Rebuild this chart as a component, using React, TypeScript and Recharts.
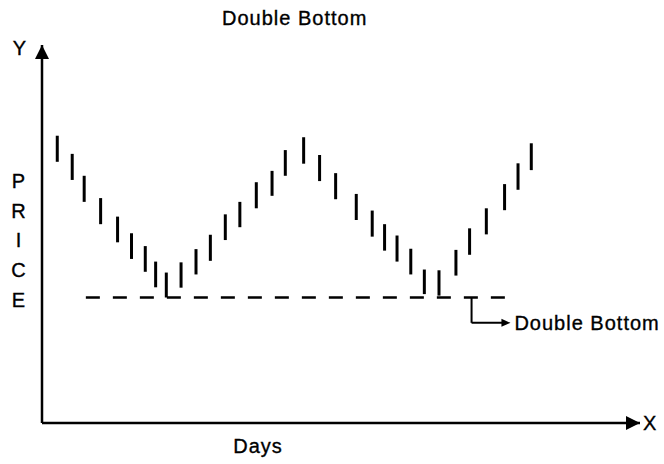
import React from "react";
import {
  Bar,
  ComposedChart,
  Label,
  ReferenceDot,
  ReferenceLine,
  XAxis,
  YAxis
} from "recharts";

// day position of each price bar (hand-drawn, so not evenly spaced)
const DAYS = [
  1.5, 3.0, 4.2, 5.85, 7.55, 8.95, 10.33, 11.37, 12.44, 13.92, 15.42, 16.86,
  18.36, 19.82, 21.47, 23.05, 24.38, 26.22, 27.82, 29.43, 31.5, 33.1, 34.34,
  35.59, 36.97, 38.33, 39.8, 41.5, 42.87, 44.55, 46.38, 47.73, 49.06
];
const HIGHS = [
  76.0, 71.2, 65.4, 59.5, 54.6, 50.2, 46.8, 42.7, 39.8, 42.5, 46.0, 49.8,
  55.2, 58.5, 63.7, 66.7, 72.2, 75.6, 70.9, 66.1, 60.6, 56.2, 52.6, 49.6,
  46.1, 40.6, 40.4, 45.8, 51.5, 56.8, 63.2, 68.7, 74.0
];
const LOWS = [
  69.1, 64.3, 58.5, 52.6, 47.8, 43.4, 40.0, 35.9, 33.2, 35.8, 39.3, 42.9,
  48.4, 51.8, 56.8, 60.1, 65.4, 68.6, 64.0, 59.2, 53.7, 49.3, 45.6, 42.7,
  39.3, 34.1, 33.7, 39.0, 44.5, 49.9, 56.3, 61.7, 66.9
];

const SUPPORT_PRICE = 33.2;
const SUPPORT_FROM = 4.4;
const SUPPORT_TO = 46.6;

const CALLOUT_DAY = 43.1;
const CALLOUT_PRICE = 26.5;
const CALLOUT_TIP = 47.0;

const X_MAX = 60;
const Y_MAX = 100;

const FONT = "'Liberation Sans', Arial, sans-serif";
const TEXT_STYLE = {
  fontFamily: FONT,
  fontSize: 20,
  letterSpacing: 1,
  fill: "#000",
  stroke: "#000",
  strokeWidth: 0.35
};

const chartData = DAYS.map((day, i) => ({ day, range: [LOWS[i], HIGHS[i]] }));

function UpArrow(props: any): React.JSX.Element {
  const { cx, cy } = props;
  return (
    <g>
      <polygon points={`${cx},${cy} ${cx - 7},${cy + 14} ${cx + 7},${cy + 14}`} fill="#000" />
      <text x={cx - 22} y={cy + 10} textAnchor="middle" style={TEXT_STYLE}>
        Y
      </text>
    </g>
  );
}

function RightArrow(props: any): React.JSX.Element {
  const { cx, cy } = props;
  return (
    <g>
      <polygon points={`${cx},${cy} ${cx - 14},${cy - 7} ${cx - 14},${cy + 7}`} fill="#000" />
      <text x={cx + 3} y={cy + 7} style={TEXT_STYLE}>
        X
      </text>
    </g>
  );
}

function CalloutArrow(props: any): React.JSX.Element {
  const { cx, cy } = props;
  return (
    <g>
      <polygon points={`${cx},${cy} ${cx - 9},${cy - 4} ${cx - 9},${cy + 4}`} fill="#000" />
      <text x={cx + 4} y={cy + 7} style={TEXT_STYLE}>
        Double Bottom
      </text>
    </g>
  );
}

function PriceLabel(props: any): React.JSX.Element {
  const { viewBox } = props;
  const letters = ["P", "R", "I", "C", "E"];
  return (
    <text textAnchor="middle" style={TEXT_STYLE}>
      {letters.map((ch, i) => (
        <tspan key={ch} x={19} y={viewBox.y + 143 + i * 29.7}>
          {ch}
        </tspan>
      ))}
    </text>
  );
}

function DaysLabel(props: any): React.JSX.Element {
  const { viewBox } = props;
  return (
    <text x={258} y={viewBox.y + 30} textAnchor="middle" style={TEXT_STYLE}>
      Days
    </text>
  );
}

export default function App(): React.JSX.Element {
  return (
    <div style={{ position: "absolute", left: 0, top: 0, width: 664, height: 464, background: "#fff" }}>
      <div
        style={{
          position: "absolute",
          left: 222,
          top: 8,
          fontFamily: FONT,
          fontSize: 20,
          letterSpacing: 1,
          lineHeight: "20px",
          color: "#000",
          WebkitTextStroke: "0.35px #000"
        }}
      >
        Double Bottom
      </div>
      <ComposedChart
        width={664}
        height={464}
        data={chartData}
        margin={{ top: 45, right: 24, bottom: 40, left: 41 }}
      >
        <XAxis
          dataKey="day"
          type="number"
          domain={[0, X_MAX]}
          allowDataOverflow
          height={1}
          tick={false}
          tickLine={false}
          axisLine={{ stroke: "#000", strokeWidth: 2.5 }}
        >
          <Label content={DaysLabel} />
        </XAxis>
        <YAxis
          type="number"
          domain={[0, Y_MAX]}
          allowDataOverflow
          width={1}
          tick={false}
          tickLine={false}
          axisLine={{ stroke: "#000", strokeWidth: 2.5 }}
        >
          <Label content={PriceLabel} />
        </YAxis>
        <Bar dataKey="range" fill="#000" barSize={3} isAnimationActive={false} />
        <ReferenceLine
          segment={[
            { x: SUPPORT_FROM, y: SUPPORT_PRICE },
            { x: SUPPORT_TO, y: SUPPORT_PRICE }
          ]}
          stroke="#000"
          strokeWidth={2.5}
          strokeDasharray="14 13"
        />
        <ReferenceLine
          segment={[
            { x: CALLOUT_DAY, y: SUPPORT_PRICE },
            { x: CALLOUT_DAY, y: CALLOUT_PRICE }
          ]}
          stroke="#000"
          strokeWidth={2}
        />
        <ReferenceLine
          segment={[
            { x: CALLOUT_DAY, y: CALLOUT_PRICE },
            { x: CALLOUT_TIP - 0.7, y: CALLOUT_PRICE }
          ]}
          stroke="#000"
          strokeWidth={2}
        />
        <ReferenceDot x={CALLOUT_TIP} y={CALLOUT_PRICE} shape={CalloutArrow} ifOverflow="visible" />
        <ReferenceDot x={0} y={Y_MAX} shape={UpArrow} ifOverflow="visible" />
        <ReferenceDot x={X_MAX} y={0} shape={RightArrow} ifOverflow="visible" />
      </ComposedChart>
    </div>
  );
}
